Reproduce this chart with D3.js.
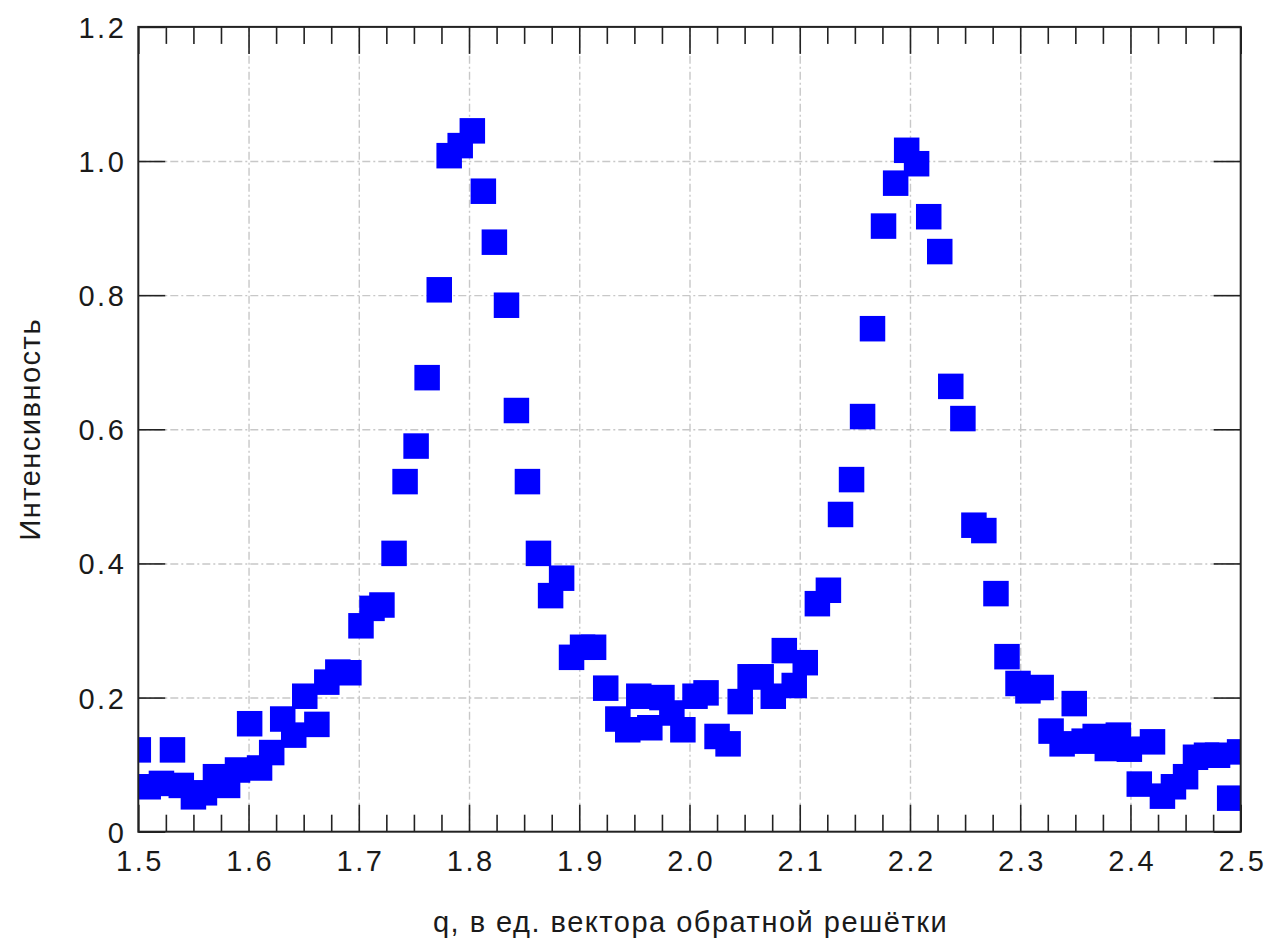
<!DOCTYPE html>
<html>
<head>
<meta charset="utf-8">
<script src="https://cdn.jsdelivr.net/npm/d3@7"></script>
<style>
  html, body { margin: 0; padding: 0; background: #fff; }
  svg { display: block; }
  text { font-family: "Liberation Sans", Arial, Helvetica, sans-serif; fill: #1a1a1a; }
</style>
</head>
<body>
<svg id="chart" width="1265" height="940"></svg>
<script>
// ---- data ----
const qValues = [
  1.500, 1.509, 1.521, 1.531, 1.539, 1.550, 1.560, 1.570, 1.581, 1.590,
  1.601, 1.610, 1.621, 1.631, 1.641, 1.651, 1.662, 1.671, 1.681, 1.691,
  1.702, 1.712, 1.721, 1.732, 1.742, 1.752, 1.762, 1.773, 1.782, 1.792,
  1.803, 1.813, 1.823, 1.834, 1.843, 1.853, 1.863, 1.874, 1.884, 1.893,
  1.903, 1.913, 1.924, 1.935, 1.944, 1.954, 1.964, 1.975, 1.984, 1.994,
  2.005, 2.015, 2.025, 2.035, 2.046, 2.055, 2.065, 2.076, 2.086, 2.095,
  2.105, 2.116, 2.126, 2.137, 2.147, 2.157, 2.166, 2.176, 2.187, 2.197,
  2.206, 2.217, 2.227, 2.237, 2.248, 2.258, 2.267, 2.278, 2.288, 2.298,
  2.307, 2.319, 2.328, 2.338, 2.349, 2.358, 2.368, 2.379, 2.389, 2.399,
  2.408, 2.420, 2.429, 2.439, 2.450, 2.459, 2.469, 2.479, 2.490, 2.499
];
const intensityValues = [
  0.122, 0.067, 0.072, 0.122, 0.069, 0.052, 0.058, 0.082, 0.069, 0.092,
  0.161, 0.095, 0.118, 0.168, 0.144, 0.202, 0.160, 0.223, 0.238, 0.237,
  0.307, 0.333, 0.338, 0.415, 0.522, 0.575, 0.677, 0.808, 1.008, 1.023,
  1.045, 0.955, 0.879, 0.785, 0.628, 0.522, 0.415, 0.352, 0.378, 0.260,
  0.275, 0.275, 0.214, 0.168, 0.152, 0.202, 0.155, 0.200, 0.177, 0.152,
  0.202, 0.207, 0.142, 0.131, 0.194, 0.231, 0.231, 0.202, 0.270, 0.218,
  0.252, 0.340, 0.360, 0.473, 0.525, 0.619, 0.750, 0.903, 0.967, 1.016,
  0.996, 0.917, 0.865, 0.664, 0.616, 0.457, 0.449, 0.355, 0.261, 0.221,
  0.210, 0.215, 0.150, 0.131, 0.191, 0.135, 0.142, 0.124, 0.144, 0.123,
  0.071, 0.134, 0.053, 0.067, 0.082, 0.111, 0.114, 0.114, 0.050, 0.119
];
const xTicks = [1.5, 1.6, 1.7, 1.8, 1.9, 2.0, 2.1, 2.2, 2.3, 2.4, 2.5];
const xTickLabels = ["1.5", "1.6", "1.7", "1.8", "1.9", "2.0", "2.1", "2.2", "2.3", "2.4", "2.5"];
const yTicks = [0, 0.2, 0.4, 0.6, 0.8, 1.0, 1.2];
const yTickLabels = ["0", "0.2", "0.4", "0.6", "0.8", "1.0", "1.2"];
const xMinorTicks = [];
xTicks.slice(0, -1).forEach((t) => {
  [0.025, 0.05, 0.075].forEach(f => xMinorTicks.push(+(t + f).toFixed(3)));
});
const xTitle = "q, в ед. вектора обратной решётки";
const yTitle = "Интенсивность";

// ---- layout ----
const plotLeft = 138.3, plotRight = 1240.7, plotTop = 26.9, plotBottom = 831.7;
const plotW = plotRight - plotLeft, plotH = plotBottom - plotTop;
const majorLen = 27, minorLen = 17;
const markerSize = 25.5;

const svg = d3.select("#chart");
const x = d3.scaleLinear().domain([1.5, 2.5]).range([plotLeft, plotRight]);
const y = d3.scaleLinear().domain([0, 1.2]).range([plotBottom, plotTop]);

// grid
const gridStyle = g => {
  g.select(".domain").remove();
  g.selectAll("line").attr("stroke", "#c8c8c8").attr("stroke-width", 1.4)
    .attr("stroke-dasharray", "8,3,2,3");
  g.selectAll("text").remove();
};
svg.append("g").attr("transform", `translate(0,${plotBottom})`)
  .call(d3.axisBottom(x).tickValues(xTicks.slice(1, -1)).tickSize(-plotH).tickFormat(""))
  .call(gridStyle);
svg.append("g").attr("transform", `translate(${plotLeft},0)`)
  .call(d3.axisLeft(y).tickValues(yTicks.slice(1, -1)).tickSize(-plotW).tickFormat(""))
  .call(gridStyle);

// points
const clip = svg.append("defs").append("clipPath").attr("id", "plotclip");
clip.append("rect").attr("x", plotLeft).attr("y", plotTop).attr("width", plotW).attr("height", plotH);
const pts = qValues.map((q, i) => ({ q, v: intensityValues[i] }));
svg.append("g").attr("clip-path", "url(#plotclip)")
  .selectAll("rect").data(pts).join("rect")
  .attr("x", d => x(d.q) - markerSize / 2)
  .attr("y", d => y(d.v) - markerSize / 2)
  .attr("width", markerSize).attr("height", markerSize)
  .attr("fill", "#0000ff");

// ticks
const tickStyle = g => {
  g.select(".domain").remove();
  g.selectAll("line").attr("stroke", "#222").attr("stroke-width", 1.6);
};
const labelStyle = g => {
  g.selectAll("text").style("font-size", "29px").style("letter-spacing", "2.5px").attr("fill", "#1a1a1a");
};
// bottom major with labels
svg.append("g").attr("transform", `translate(0,${plotBottom})`)
  .call(d3.axisBottom(x).tickValues(xTicks).tickSize(-majorLen)
    .tickFormat((d, i) => xTickLabels[i]).tickPadding(0))
  .call(tickStyle)
  .call(g => g.selectAll("text").attr("y", 39.5).attr("dy", null).attr("dx", "1.2px"))
  .call(labelStyle);
svg.append("g").attr("transform", `translate(0,${plotBottom})`)
  .call(d3.axisBottom(x).tickValues(xMinorTicks).tickSize(-minorLen).tickFormat(""))
  .call(tickStyle);
// top
svg.append("g").attr("transform", `translate(0,${plotTop})`)
  .call(d3.axisTop(x).tickValues(xTicks).tickSize(-majorLen).tickFormat(""))
  .call(tickStyle);
svg.append("g").attr("transform", `translate(0,${plotTop})`)
  .call(d3.axisTop(x).tickValues(xMinorTicks).tickSize(-minorLen).tickFormat(""))
  .call(tickStyle);
// left with labels
svg.append("g").attr("transform", `translate(${plotLeft},0)`)
  .call(d3.axisLeft(y).tickValues(yTicks).tickSize(-majorLen)
    .tickFormat((d, i) => yTickLabels[i]).tickPadding(0))
  .call(tickStyle)
  .call(g => g.selectAll("text").attr("x", -12).attr("dy", "0.36em"))
  .call(labelStyle);
// right
svg.append("g").attr("transform", `translate(${plotRight},0)`)
  .call(d3.axisRight(y).tickValues(yTicks).tickSize(-majorLen).tickFormat(""))
  .call(tickStyle);

// frame
svg.append("rect").attr("x", plotLeft).attr("y", plotTop).attr("width", plotW).attr("height", plotH)
  .attr("fill", "none").attr("stroke", "#222").attr("stroke-width", 2);

// titles
svg.append("text").attr("x", (plotLeft + plotRight) / 2 + 1).attr("y", 932)
  .attr("text-anchor", "middle").style("font-size", "29px").style("letter-spacing", "1.5px")
  .text(xTitle);
svg.append("text")
  .attr("transform", `translate(40,${(plotTop + plotBottom) / 2}) rotate(-90)`)
  .attr("text-anchor", "middle").style("font-size", "29px").style("letter-spacing", "1.5px")
  .text(yTitle);
</script>
</body>
</html>
